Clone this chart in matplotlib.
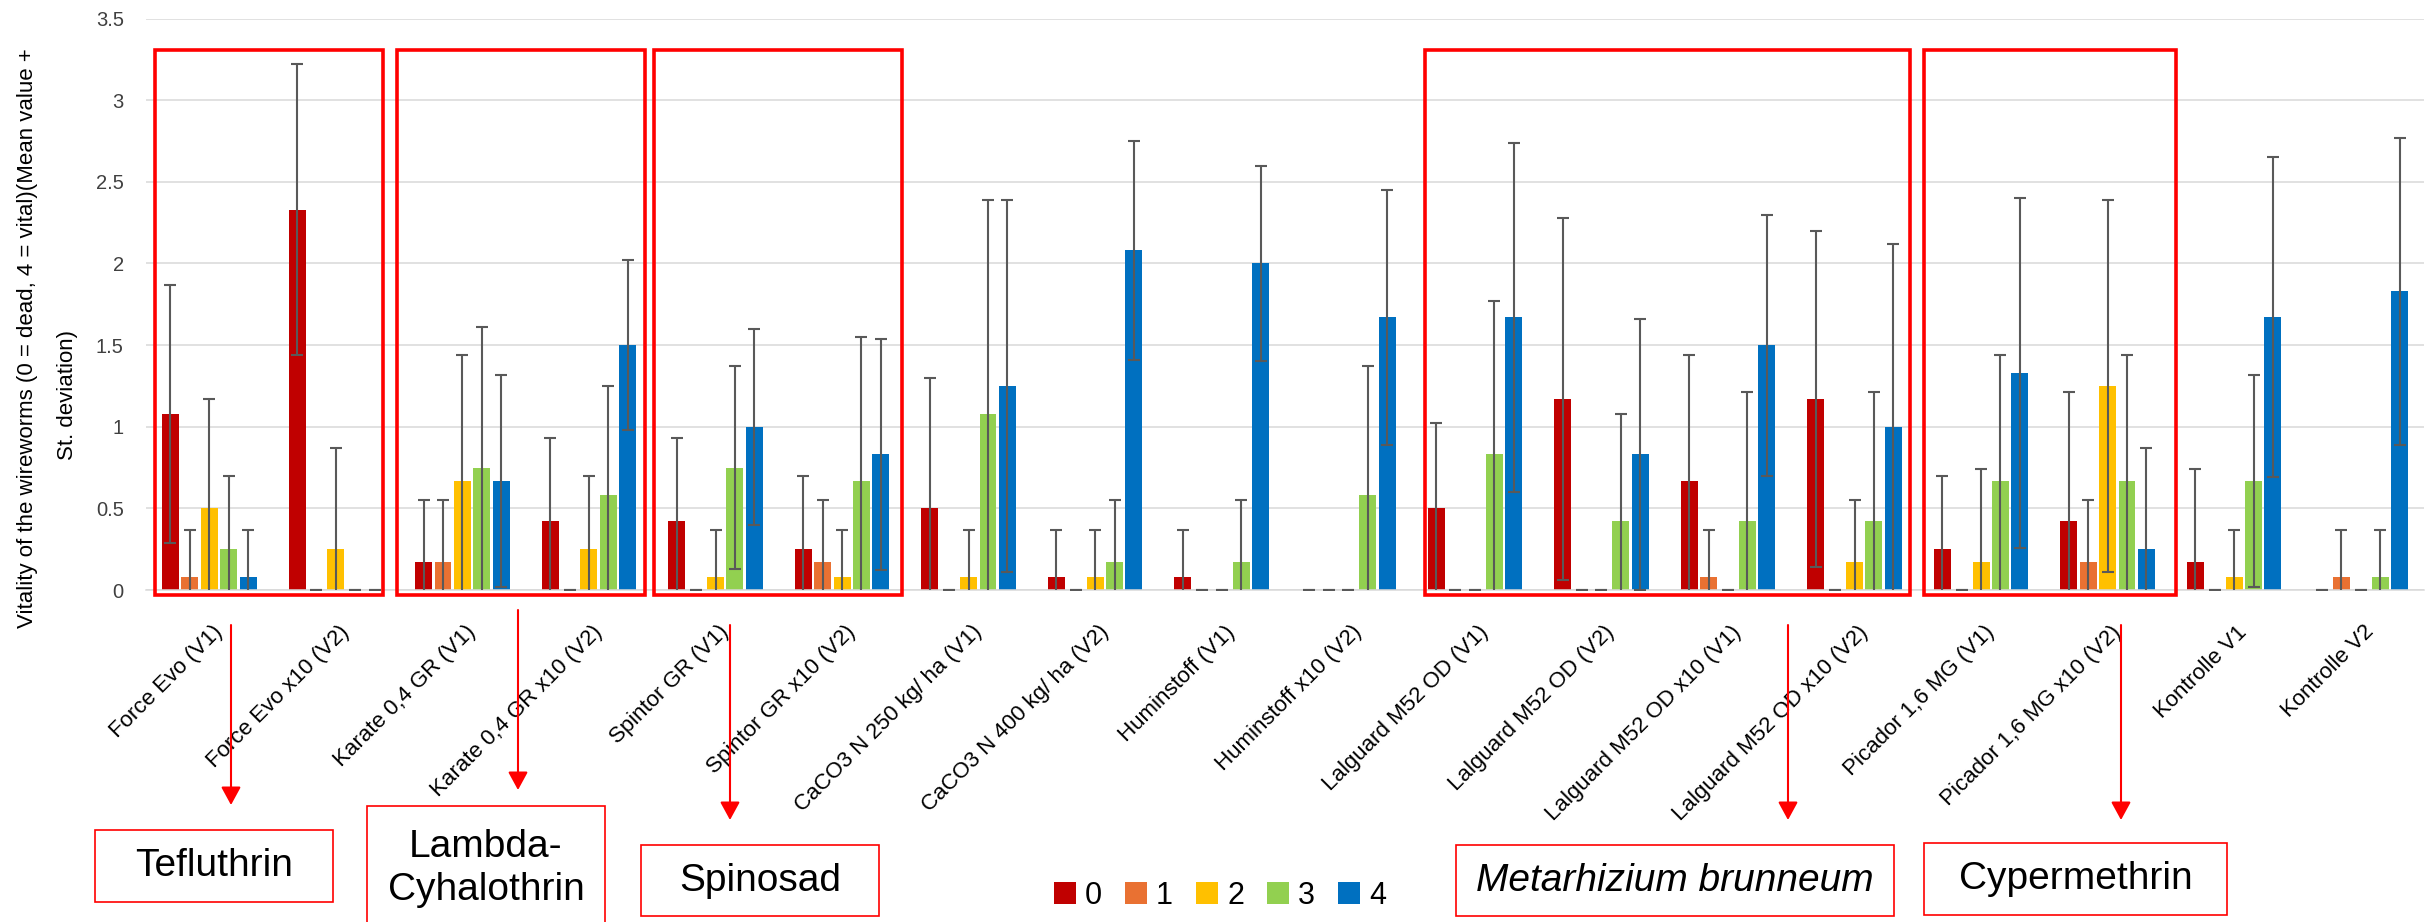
import matplotlib
matplotlib.use("Agg")
import matplotlib.pyplot as plt
import matplotlib.transforms as mtransforms
from matplotlib.patches import Rectangle, Patch, FancyArrowPatch
import numpy as np

plt.rcParams['font.family'] = ['Liberation Sans', 'DejaVu Sans']

treatments = ["Force Evo (V1)", "Force Evo x10 (V2)", "Karate 0,4 GR (V1)", "Karate 0,4 GR x10 (V2)",
              "Spintor GR (V1)", "Spintor GR x10 (V2)", "CaCO3 N 250 kg/ ha (V1)", "CaCO3 N 400 kg/ ha (V2)",
              "Huminstoff (V1)", "Huminstoff x10 (V2)", "Lalguard M52 OD (V1)", "Lalguard M52 OD (V2)",
              "Lalguard M52 OD x10 (V1)", "Lalguard M52 OD x10 (V2)", "Picador 1,6 MG (V1)",
              "Picador 1,6 MG x10 (V2)", "Kontrolle V1", "Kontrolle V2"]

classes = ["0", "1", "2", "3", "4"]
colors = ["#C00000", "#E97132", "#FFC000", "#92D050", "#0070C0"]

# mean vitality per class
mean_0 = [1.08, 2.33, 0.17, 0.42, 0.42, 0.25, 0.50, 0.08, 0.08, 0, 0.50, 1.17, 0.67, 1.17, 0.25, 0.42, 0.17, 0]
mean_1 = [0.08, 0, 0.17, 0, 0, 0.17, 0, 0, 0, 0, 0, 0, 0.08, 0, 0, 0.17, 0, 0.08]
mean_2 = [0.50, 0.25, 0.67, 0.25, 0.08, 0.08, 0.08, 0.08, 0, 0, 0, 0, 0, 0.17, 0.17, 1.25, 0.08, 0]
mean_3 = [0.25, 0, 0.75, 0.58, 0.75, 0.67, 1.08, 0.17, 0.17, 0.58, 0.83, 0.42, 0.42, 0.42, 0.67, 0.67, 0.67, 0.08]
mean_4 = [0.08, 0, 0.67, 1.50, 1.00, 0.83, 1.25, 2.08, 2.00, 1.67, 1.67, 0.83, 1.50, 1.00, 1.33, 0.25, 1.67, 1.83]

# standard deviation per class
sd_0 = [0.79, 0.89, 0.38, 0.51, 0.51, 0.45, 0.80, 0.29, 0.29, 0, 0.52, 1.11, 0.77, 1.03, 0.45, 0.79, 0.57, 0]
sd_1 = [0.29, 0, 0.38, 0, 0, 0.38, 0, 0, 0, 0, 0, 0, 0.29, 0, 0, 0.38, 0, 0.29]
sd_2 = [0.67, 0.62, 0.77, 0.45, 0.29, 0.29, 0.29, 0.29, 0, 0, 0, 0, 0, 0.38, 0.57, 1.14, 0.29, 0]
sd_3 = [0.45, 0, 0.86, 0.67, 0.62, 0.88, 1.31, 0.38, 0.38, 0.79, 0.94, 0.66, 0.79, 0.79, 0.77, 0.77, 0.65, 0.29]
sd_4 = [0.29, 0, 0.65, 0.52, 0.60, 0.71, 1.14, 0.67, 0.60, 0.78, 1.07, 0.83, 0.80, 1.12, 1.07, 0.62, 0.98, 0.94]

means = [mean_0, mean_1, mean_2, mean_3, mean_4]
sds = [sd_0, sd_1, sd_2, sd_3, sd_4]

# overlay annotations (pixel positions on the 2425x922 canvas)
group_boxes = [(155, 383), (397, 645), (654, 902), (1425, 1910), (1924, 2176)]
substances = ["Tefluthrin", "Lambda-\nCyhalothrin", "Spinosad", "Metarhizium brunneum", "Cypermethrin"]
substance_boxes = [(95, 333, 830, 902), (367, 605, 806, 940), (641, 879, 845, 916),
                   (1456, 1894, 845, 916), (1924, 2227, 843, 915)]
arrows = [(231, 625, 805), (518, 610, 790), (730, 625, 820), (1788, 625, 820), (2121, 625, 820)]

W, H = 2425, 922


def fx(x):
    return x / W


def fy(y):
    return 1 - y / H


def main():
    fig = plt.figure(figsize=(W / 100, H / 100), dpi=100)
    ax = fig.add_axes([fx(146), fy(590), fx(2424) - fx(146), fy(18.6) - fy(590)])

    x = np.arange(len(treatments))
    step = 0.1533
    for i in range(len(classes)):
        pos = x + (i - 2) * step
        ax.bar(pos, means[i], width=0.134, color=colors[i], zorder=2)
        ax.errorbar(pos, means[i], yerr=sds[i], fmt='none', ecolor='#595959',
                    elinewidth=1.5, capsize=4, capthick=1.5, zorder=3)

    ax.set_xlim(-0.5, len(treatments) - 0.5)
    ax.set_ylim(0, 3.5)
    ax.set_yticks(np.arange(0, 3.51, 0.5))
    ax.set_yticklabels(['0', '0.5', '1', '1.5', '2', '2.5', '3', '3.5'])
    ax.yaxis.grid(True, color='#d9d9d9', linewidth=1.1)
    ax.set_axisbelow(True)
    for s in ['top', 'right', 'left']:
        ax.spines[s].set_visible(False)
    ax.spines['bottom'].set_color('#d9d9d9')
    ax.spines['bottom'].set_linewidth(1.1)
    ax.tick_params(axis='both', length=0)
    ax.tick_params(axis='y', labelsize=14.5, labelcolor='#404040', pad=16)
    ax.tick_params(axis='x', pad=28)

    ax.set_xticks(x)
    ax.set_xticklabels(treatments, rotation=45, ha='right', va='center',
                       rotation_mode='anchor', fontsize=16)
    shift = mtransforms.ScaledTranslation(10 / 100, 0, fig.dpi_scale_trans)
    for lab in ax.get_xticklabels():
        lab.set_transform(lab.get_transform() + shift)

    # y axis title in two lines
    fig.text(fx(28), fy(338), "Vitality of the wireworms (0 = dead, 4 = vital)(Mean value +",
             rotation=90, ha='center', va='center', fontsize=16)
    fig.text(fx(68), fy(395), "St. deviation)", rotation=90, ha='center', va='center', fontsize=16)

    # red frames around treatment groups
    for x0, x1 in group_boxes:
        fig.add_artist(Rectangle((fx(x0), fy(595)), fx(x1) - fx(x0), fy(50) - fy(595),
                                 transform=fig.transFigure, fill=False, edgecolor='#FF0000',
                                 linewidth=2.6, joinstyle='miter', zorder=5))

    for xa, y0, y1 in arrows:
        fig.add_artist(FancyArrowPatch((fx(xa), fy(y0)), (fx(xa), fy(y1)),
                                       transform=fig.transFigure,
                                       arrowstyle='-|>,head_length=0.55,head_width=0.3',
                                       mutation_scale=20, color='#FF0000', linewidth=1.5,
                                       shrinkA=0, shrinkB=0, zorder=5))

    for name, (x0, x1, y0, y1) in zip(substances, substance_boxes):
        fig.add_artist(Rectangle((fx(x0), fy(y1)), fx(x1) - fx(x0), fy(y0) - fy(y1),
                                 transform=fig.transFigure, fill=False, edgecolor='#FF0000',
                                 linewidth=1.2, zorder=5))
        yc = (y0 + min(y1, 930)) / 2
        style = 'italic' if name.startswith('Metarhizium') else 'normal'
        if '\n' in name:
            yc = 868
        fig.text(fx((x0 + x1) / 2), fy(yc), name, ha='center', va='center',
                 fontsize=28, style=style, linespacing=1.25)

    handles = [Patch(facecolor=c, edgecolor='none') for c in colors]
    fig.legend(handles, classes, loc='center', bbox_to_anchor=(fx(1220), fy(896)), ncol=5,
               frameon=False, fontsize=22, handlelength=0.72, handleheight=0.72,
               handletextpad=0.3, columnspacing=0.75)

    fig.savefig('out.png', dpi=100)


if __name__ == '__main__':
    main()
